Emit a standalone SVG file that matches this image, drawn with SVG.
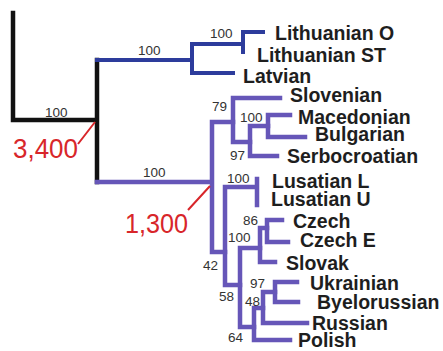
<svg xmlns="http://www.w3.org/2000/svg" width="443" height="351" viewBox="0 0 443 351">
<style>
.bk{fill:none;stroke:#111;stroke-width:4.5;stroke-linecap:square;stroke-linejoin:miter}
.bl{fill:none;stroke:#2d3c9c;stroke-width:4;stroke-linecap:square;stroke-linejoin:miter}
.pu{fill:none;stroke:#6656b8;stroke-width:4.5;stroke-linecap:square;stroke-linejoin:miter}
.rd{fill:none;stroke:#d8262a;stroke-width:2}
.tx{font-family:"Liberation Sans",Arial,sans-serif;font-weight:bold;font-size:19.5px;fill:#1e1e1e}
.bs{font-family:"Liberation Sans",Arial,sans-serif;font-size:13.5px;fill:#333}
.rt{font-family:"Liberation Sans",Arial,sans-serif;font-size:27px;fill:#d8262a}
</style>
<rect width="443" height="351" fill="#fff"/>
<g id="connectors">
<path class="bk" d="M13,13 V120 H97 M97,60 V182"/>
<path class="bl" d="M97,60 H192 M233,73 H192 V44 H243 M263,32 H243 V52"/>
<path class="pu" d="M97,182 H212 M233,122 H212 V252 H225"/>
<path class="pu" d="M280,98 H233 V142 H250"/>
<path class="pu" d="M268,126 H250 V156 H277"/>
<path class="pu" d="M290,115 H268 V137 H305"/>
<path class="pu" d="M257,187 H225 V285 H240 M257,179 V205"/>
<path class="pu" d="M260,248 H240 V327 H254"/>
<path class="pu" d="M267,228 H260 V262 H275"/>
<path class="pu" d="M282,220 H267 V242 H288"/>
<path class="pu" d="M263,308 H254 V340 H290"/>
<path class="pu" d="M275,292 H263 V323 H307"/>
<path class="pu" d="M297,282 H275 V302 H298"/>
<path class="rd" d="M95,122 L78,144 M210,186 L188,210"/>
</g>
<g id="support-labels">
<text class="bs" x="45" y="117">100</text>
<text class="bs" x="138" y="55">100</text>
<text class="bs" x="143" y="177">100</text>
<text class="bs" x="210" y="38">100</text>
<text class="bs" x="212" y="111">79</text>
<text class="bs" x="240" y="122">100</text>
<text class="bs" x="230" y="160">97</text>
<text class="bs" x="227" y="183">100</text>
<text class="bs" x="243" y="225">86</text>
<text class="bs" x="228" y="242">100</text>
<text class="bs" x="203" y="270">42</text>
<text class="bs" x="250" y="288">97</text>
<text class="bs" x="219" y="301">58</text>
<text class="bs" x="245" y="306">48</text>
<text class="bs" x="228" y="342">64</text>
</g>
<g id="date-3400"><text class="rt" x="13" y="158" textLength="65" lengthAdjust="spacingAndGlyphs">3,400</text></g>
<g id="date-1300"><text class="rt" x="125" y="233" textLength="63" lengthAdjust="spacingAndGlyphs">1,300</text></g>
<g id="lithuanian-o"><text class="tx" x="275" y="40">Lithuanian O</text></g>
<g id="lithuanian-st"><text class="tx" x="257" y="62">Lithuanian ST</text></g>
<g id="latvian"><text class="tx" x="243" y="83">Latvian</text></g>
<g id="slovenian"><text class="tx" x="290" y="102">Slovenian</text></g>
<g id="macedonian"><text class="tx" x="298" y="124">Macedonian</text></g>
<g id="bulgarian"><text class="tx" x="315" y="141">Bulgarian</text></g>
<g id="serbocroatian"><text class="tx" x="287" y="163">Serbocroatian</text></g>
<g id="lusatian-l"><text class="tx" x="272" y="188">Lusatian L</text></g>
<g id="lusatian-u"><text class="tx" x="271" y="206">Lusatian U</text></g>
<g id="czech"><text class="tx" x="293" y="228">Czech</text></g>
<g id="czech-e"><text class="tx" x="300" y="247">Czech E</text></g>
<g id="slovak"><text class="tx" x="286" y="270">Slovak</text></g>
<g id="ukrainian"><text class="tx" x="310" y="290">Ukrainian</text></g>
<g id="byelorussian"><text class="tx" x="317" y="309">Byelorussian</text></g>
<g id="russian"><text class="tx" x="312" y="330">Russian</text></g>
<g id="polish"><text class="tx" x="298" y="347">Polish</text></g>
</svg>
